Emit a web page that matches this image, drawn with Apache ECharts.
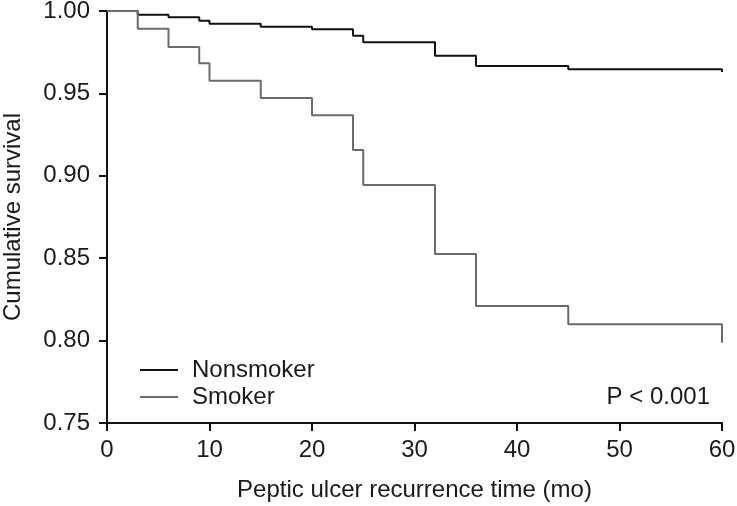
<!DOCTYPE html>
<html>
<head>
<meta charset="utf-8">
<script src="https://cdn.jsdelivr.net/npm/echarts@6/dist/echarts.min.js"></script>
<style>
html,body{margin:0;padding:0;background:#fff;}
#main{width:737px;height:506px;}
</style>
</head>
<body>
<div id="main"></div>
<script>
var seriesNames = ['Nonsmoker', 'Smoker'];
var nonsmokerTimes = [0, 3, 6, 9, 10, 15, 20, 24, 25, 32, 36, 45, 60];
var nonsmokerSurv = [1.0, 0.9978, 0.9962, 0.9941, 0.9923, 0.9905, 0.9889, 0.9850, 0.9810, 0.9729, 0.9666, 0.9646, 0.9630];
var smokerTimes = [0, 3, 6, 9, 10, 15, 20, 24, 25, 32, 36, 45, 60];
var smokerSurv = [1.0, 0.9893, 0.9782, 0.9683, 0.9577, 0.9472, 0.9367, 0.9157, 0.8944, 0.8525, 0.8210, 0.8099, 0.7987];
var xTicks = [0, 10, 20, 30, 40, 50, 60];
var yTicks = [0.75, 0.80, 0.85, 0.90, 0.95, 1.00];
var pText = 'P < 0.001';

function pairs(t, v) { return t.map(function (x, i) { return [x, v[i]]; }); }

var FONT = '"Liberation Sans", Arial, sans-serif';
var chart = echarts.init(document.getElementById('main'), null, {renderer: 'canvas'});
chart.setOption({
  backgroundColor: '#fff',
  animation: false,
  textStyle: {fontFamily: FONT},
  grid: {left: 107, right: 15, top: 11, bottom: 83, containLabel: false, outerBoundsMode: 'none'},
  legend: {
    data: seriesNames,
    orient: 'vertical',
    left: 140,
    top: 358,
    padding: 0,
    icon: 'rect',
    itemWidth: 38,
    itemHeight: 2,
    itemGap: 3,
    textStyle: {fontSize: 24, color: '#1a1a1a', fontFamily: FONT, padding: [0, 0, 0, 9], lineHeight: 24},
    selectedMode: false
  },
  xAxis: {
    type: 'value',
    min: xTicks[0], max: xTicks[xTicks.length - 1], interval: 10,
    name: 'Peptic ulcer recurrence time (mo)',
    nameLocation: 'middle', nameGap: 55,
    nameTextStyle: {fontSize: 24, color: '#1a1a1a', fontFamily: FONT},
    axisLine: {show: true, lineStyle: {color: '#111', width: 2}},
    axisTick: {show: true, length: 8, lineStyle: {color: '#111', width: 2}},
    axisLabel: {fontSize: 24, color: '#1a1a1a', margin: 15, fontFamily: FONT},
    splitLine: {show: false}
  },
  yAxis: {
    type: 'value',
    min: yTicks[0], max: yTicks[yTicks.length - 1], interval: 0.05,
    name: 'Cumulative survival',
    nameLocation: 'middle', nameGap: 82,
    nameTextStyle: {fontSize: 24, color: '#1a1a1a', fontFamily: FONT},
    axisLine: {show: true, lineStyle: {color: '#111', width: 2}},
    axisTick: {show: true, length: 8, lineStyle: {color: '#111', width: 2}},
    axisLabel: {fontSize: 24, color: '#1a1a1a', margin: 17, fontFamily: FONT,
      formatter: function (v) { return v.toFixed(2); }},
    splitLine: {show: false}
  },
  series: [
    {
      name: seriesNames[0], type: 'line', step: 'end', symbol: 'none',
      data: pairs(nonsmokerTimes, nonsmokerSurv),
      lineStyle: {color: '#111', width: 2},
      itemStyle: {color: '#111'}
    },
    {
      name: seriesNames[1], type: 'line', step: 'end', symbol: 'none',
      data: pairs(smokerTimes, smokerSurv),
      lineStyle: {color: '#6b6b6b', width: 2},
      itemStyle: {color: '#6b6b6b'}
    }
  ],
  graphic: [{
    type: 'text',
    right: 27, top: 385,
    style: {text: pText, font: '24px ' + FONT, fill: '#1a1a1a'}
  }]
});
</script>
</body>
</html>
